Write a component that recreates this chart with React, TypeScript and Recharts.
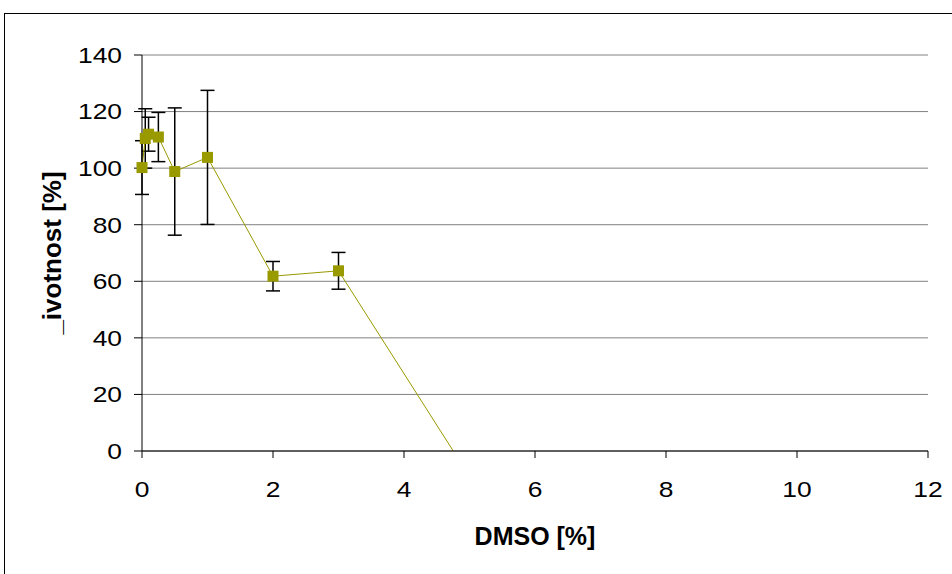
import { LineChart, Line, XAxis, YAxis, CartesianGrid, ErrorBar, Label } from "recharts"

const dmso = [0, 0.05, 0.1, 0.25, 0.5, 1, 2, 3, 5]
const viability = [100.2, 110.5, 112, 111, 98.8, 103.8, 61.8, 63.7, -9]
const sd = [9.5, 10.5, 6, 8.7, 22.5, 23.7, 5.2, 6.5, null]
const xTicks = [0, 2, 4, 6, 8, 10, 12]
const yTicks = [0, 20, 40, 60, 80, 100, 120, 140]

const data = dmso.map((d, i) => ({ dmso: d, viability: viability[i], sd: sd[i] }))

const font = "'Liberation Sans', Arial, sans-serif"
const olive = "#999900"

function XTick({ x, y, payload }: any) {
  return (
    <text x={0} y={0} transform={`translate(${x},${y}) scale(1.2,1)`} textAnchor="middle" dy="0.71em"
      fontSize={22} fontFamily={font} fill="#000">
      {payload.value}
    </text>
  )
}

function YTick({ x, y, payload }: any) {
  return (
    <text x={0} y={0} transform={`translate(${x},${y}) scale(1.2,1)`} textAnchor="end" dy="0.36em"
      fontSize={22} fontFamily={font} fill="#000">
      {payload.value}
    </text>
  )
}

function SquareDot({ cx, cy }: any) {
  if (cx == null || cy == null) return null
  return <rect x={cx - 5.5} y={cy - 5.5} width={11} height={11} fill={olive} />
}

export default function App() {
  return (
    <div style={{ position: "absolute", left: 0, top: 0, width: 952, height: 574, overflow: "hidden", background: "#fff" }}>
      <div style={{ position: "absolute", left: 4, top: 13, width: 970, height: 620, border: "1px solid #000" }} />
      <div style={{ position: "absolute", left: 0, top: 0 }}>
        <LineChart width={952} height={574} data={data} margin={{ top: 55, right: 24, left: 82, bottom: 23 }}>
          <CartesianGrid vertical={false} stroke="#808080" strokeWidth={1} />
          <XAxis
            type="number"
            dataKey="dmso"
            domain={[0, 12]}
            ticks={xTicks}
            height={100}
            tickSize={7}
            tickMargin={23}
            axisLine={{ stroke: "#000" }}
            tickLine={{ stroke: "#000" }}
            tick={<XTick />}
          >
            <Label value="DMSO [%]" position="insideBottom" offset={6} fontSize={25} fontWeight="bold" fontFamily={font} fill="#000" />
          </XAxis>
          <YAxis
            type="number"
            domain={[0, 140]}
            ticks={yTicks}
            allowDataOverflow
            width={60}
            tickSize={8}
            tickMargin={12}
            axisLine={{ stroke: "#000" }}
            tickLine={{ stroke: "#000" }}
            tick={<YTick />}
          >
            <Label value="_ivotnost [%]" angle={-90} position="insideLeft" offset={-30} fontSize={26} fontWeight="bold"
              fontFamily={font} fill="#000" style={{ textAnchor: "middle" }} />
          </YAxis>
          <Line
            type="linear"
            dataKey="viability"
            stroke={olive}
            strokeWidth={1}
            dot={<SquareDot />}
            activeDot={false}
            isAnimationActive={false}
          >
            <ErrorBar dataKey="sd" direction="y" width={7} stroke="#000" strokeWidth={1.5} />
          </Line>
        </LineChart>
      </div>
    </div>
  )
}
